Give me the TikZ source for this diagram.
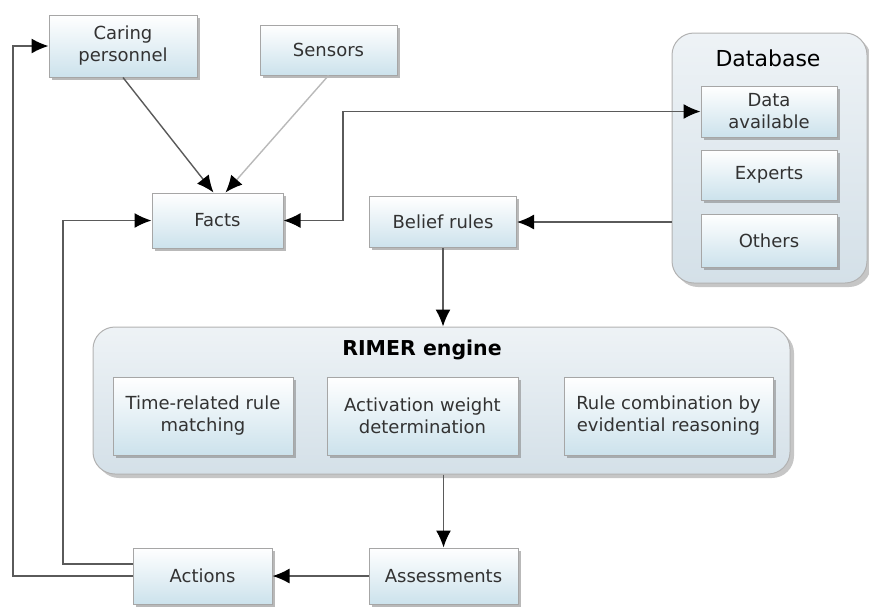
\documentclass[tikz,border=0pt]{standalone}
\usepackage{fontspec}
\setmainfont{DejaVu Sans}
\usepackage{tikz}
\usetikzlibrary{arrows.meta}
\usetikzlibrary{shadows}
\usetikzlibrary{calc}
\definecolor{boxblue}{RGB}{204,226,236}
\definecolor{cntgray}{RGB}{212,224,232}
\definecolor{linegray}{RGB}{90,90,90}
\definecolor{txtgray}{RGB}{50,50,50}

\begin{document}
\begin{tikzpicture}[x=1pt,y=-1pt,
  box/.style={draw=gray!70,line width=1pt,top color=white,bottom color=boxblue,
    drop shadow={shadow xshift=2.5pt,shadow yshift=-2.5pt,opacity=.55},
    text=txtgray,align=center,inner sep=0pt,font=\fontsize{18}{22}\selectfont},
  cnt/.style={draw=gray!60,line width=1pt,rounded corners=22pt,top color=white!60!cntgray,bottom color=cntgray,
    drop shadow={shadow xshift=4pt,shadow yshift=-4pt,opacity=.45},inner sep=0pt},
  arr/.style={draw=linegray,line width=1.4pt,-{Latex[length=17pt,width=15pt,color=black]}},
  arrs/.style={arr,{Latex[length=17pt,width=15pt,color=black]}-{Latex[length=17pt,width=15pt,color=black]}}]
  \useasboundingbox (0,0) rectangle (869,606);
  % containers
  \node[cnt,minimum width=195pt,minimum height=250pt] (database) at (769.5,158) {};
  \node[cnt,minimum width=697pt,minimum height=147pt] (rimer) at (441.5,400.5) {};
  \node[text=black,font=\fontsize{22}{26}\selectfont] (dbtitle) at (768,58) {Database};
  \node[text=black,font=\fontsize{20.5}{24}\bfseries] (rimertitle) at (422,350) {RIMER engine};
  % boxes
  \node[box,minimum width=148pt,minimum height=62pt] (caring) at (123,46) {Caring\\personnel};
  \node[box,minimum width=137pt,minimum height=50pt] (sensors) at (328.5,50) {Sensors};
  \node[box,minimum width=131pt,minimum height=55pt] (facts) at (217.5,220.5) {Facts};
  \node[box,minimum width=147pt,minimum height=51pt] (belief) at (443,222) {Belief rules};
  \node[box,minimum width=136pt,minimum height=51pt] (dataav) at (769,111.5) {Data\\available};
  \node[box,minimum width=136pt,minimum height=50pt] (experts) at (769,175) {Experts};
  \node[box,minimum width=136pt,minimum height=53pt] (others) at (769,240.5) {Others};
  \node[box,minimum width=180pt,minimum height=78pt] (timerule) at (203,416) {Time-related rule\\matching};
  \node[box,minimum width=191pt,minimum height=78pt] (actweight) at (422.5,416) {Activation weight\\determination};
  \node[box,minimum width=209pt,minimum height=78pt] (rulecomb) at (668.5,416) {Rule combination by\\evidential reasoning};
  \node[box,minimum width=139pt,minimum height=56pt] (actions) at (202.5,576) {Actions};
  \node[box,minimum width=149pt,minimum height=56pt] (assess) at (443.5,576) {Assessments};
  % bends of the loops
  \coordinate (outer) at (13,0);
  \coordinate (inner) at (63,0);
  \coordinate (databend) at (343,0);
  % connectors
  \draw[arr] (caring.south) -- ([xshift=-4pt]facts.north);
  \draw[arr,draw=gray!55] (sensors.south) -- ([xshift=8pt]facts.north);
  \draw[arr] (actions.west) -- (actions.west -| outer) |- (caring.west);
  \draw[arr] ([yshift=12pt]actions.west) -- ([yshift=12pt]actions.west -| inner) |- (facts.west);
  \draw[arrs] (facts.east) -- (facts.east -| databend) |- (dataav.west);
  \draw[arr] (belief.east -| database.west) -- (belief.east);
  \draw[arr] (belief.south) -- (belief.south |- rimer.north);
  \draw[arr] (assess.north |- rimer.south) -- (assess.north);
  \draw[arr] (assess.west) -- (actions.east);
\end{tikzpicture}
\end{document}
